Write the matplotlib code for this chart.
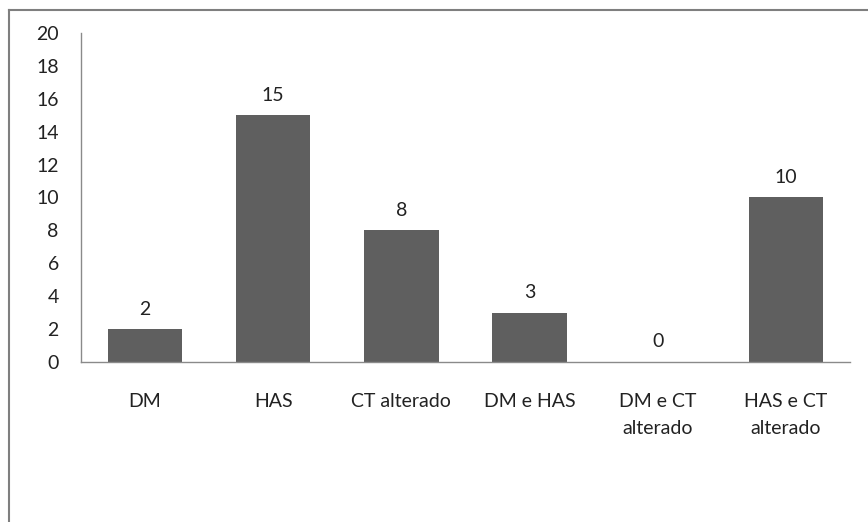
import numpy as np
import matplotlib.pyplot as plt
from matplotlib.lines import Line2D

plt.rcParams['font.family'] = ['Lato', 'DejaVu Sans']

categories = ['DM', 'HAS', 'CT alterado', 'DM e HAS', 'DM e CT\nalterado', 'HAS e CT\nalterado']
counts = [2, 15, 8, 3, 0, 10]
yticks = list(range(0, 21, 2))

fig = plt.figure(figsize=(8.68, 5.22), dpi=100)
ax = fig.add_axes([0.0933, 0.3065, 0.886, 0.6303])

x = np.arange(len(categories))
ax.bar(x, counts, width=0.58, color='#5f5f5f')
for xi, v in zip(x, counts):
    ax.text(xi, v + 0.7, str(v), ha='center', va='bottom', fontsize=14, color='#222222')

ax.set_xlim(-0.5, len(categories) - 0.5)
ax.set_ylim(0, 20)
ax.set_yticks(yticks)
ax.set_xticks(x)
ax.set_xticklabels(categories, fontsize=14, color='#222222', linespacing=1.75, va='top')
ax.tick_params(axis='y', length=0, pad=16, labelsize=14, labelcolor='#222222')
ax.tick_params(axis='x', length=0, pad=22)
for lab in ax.get_yticklabels():
    lab.set_horizontalalignment('right')

for s in ['top', 'right']:
    ax.spines[s].set_visible(False)
for s in ['left', 'bottom']:
    ax.spines[s].set_color('#8a8a8a')
    ax.spines[s].set_linewidth(1.0)

# outer chart border (only top and left visible in the crop)
fig.add_artist(Line2D([9/868, 9/868], [0, 1 - 10/522], transform=fig.transFigure, color='#7f7f7f', lw=1.5))
fig.add_artist(Line2D([9/868, 1], [1 - 10/522, 1 - 10/522], transform=fig.transFigure, color='#7f7f7f', lw=1.5))

fig.savefig('out.png', dpi=100)
